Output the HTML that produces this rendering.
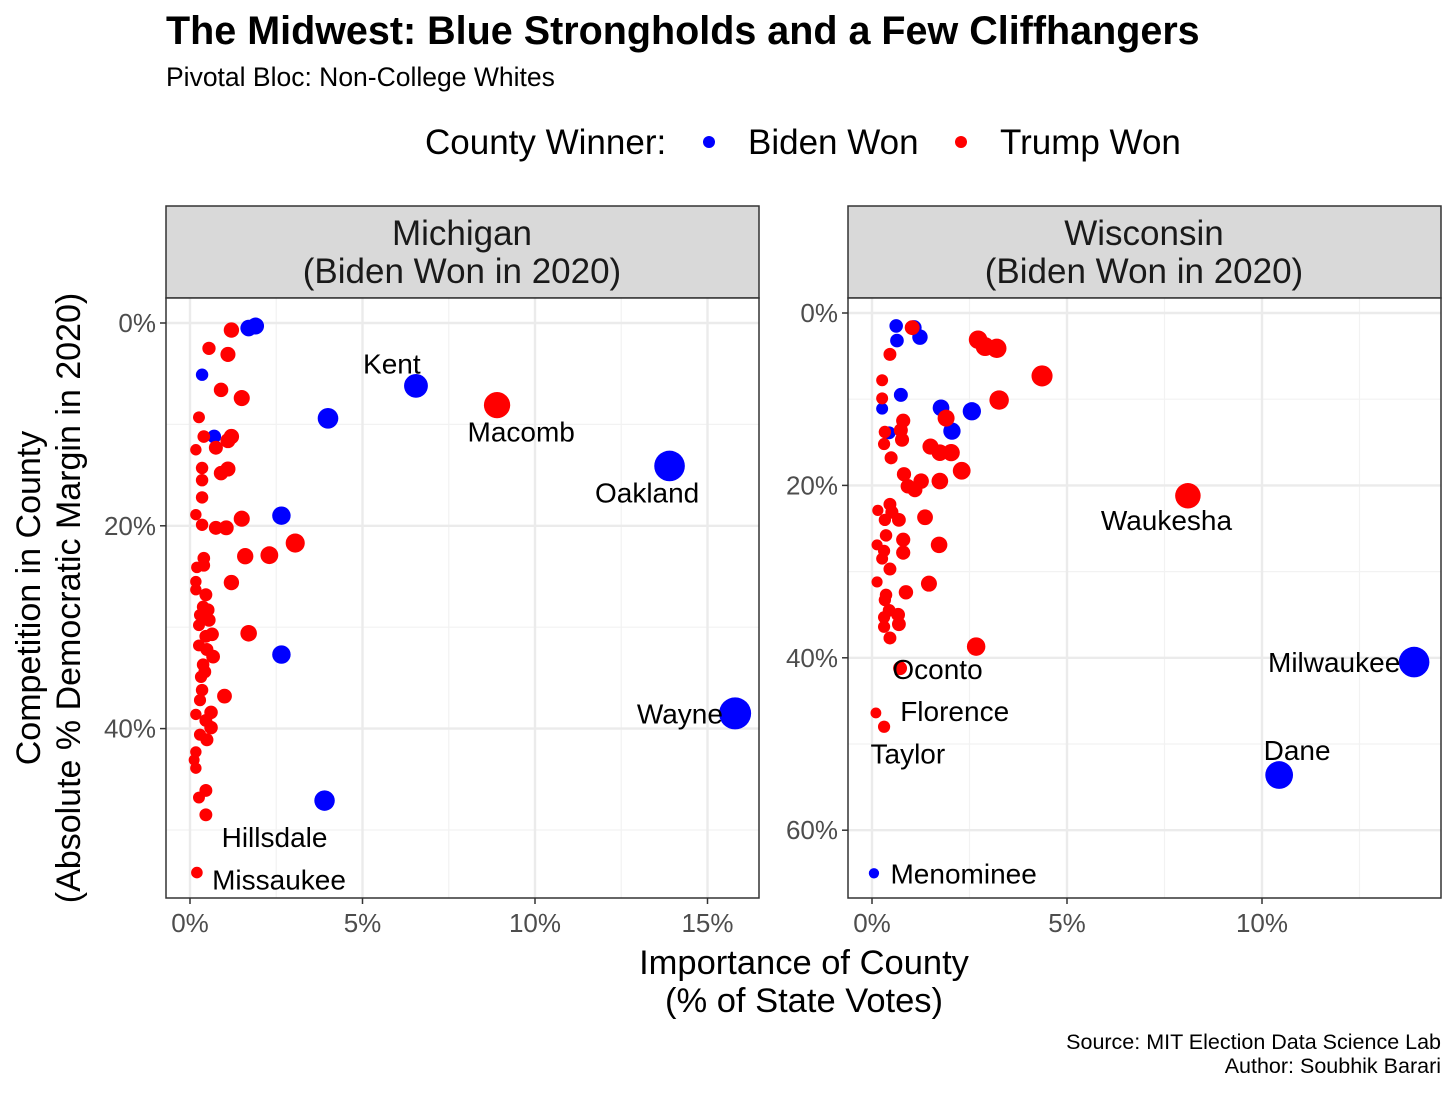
<!DOCTYPE html>
<html><head><meta charset="utf-8"><style>
body{margin:0;background:#fff;font-family:"Liberation Sans",Arial,sans-serif}
svg text{font-family:"Liberation Sans",Arial,sans-serif}
</style></head><body>
<svg id="c" width="1456" height="1092" xmlns="http://www.w3.org/2000/svg">
<text x="166" y="44" font-size="39.5" font-weight="bold">The Midwest: Blue Strongholds and a Few Cliffhangers</text>
<text x="166" y="86" font-size="26.5">Pivotal Bloc: Non-College Whites</text>
<g>
<text x="425" y="154" font-size="35">County Winner:</text>
<circle cx="709" cy="142" r="6" fill="#0000ff"/>
<text x="748" y="154" font-size="35">Biden Won</text>
<circle cx="961" cy="142" r="6" fill="#ff0000"/>
<text x="1000" y="154" font-size="35">Trump Won</text>
</g>
<text transform="translate(42,598) rotate(-90)" text-anchor="middle" font-size="34"><tspan x="0" dy="-2">Competition in County</tspan><tspan x="0" dy="40">(Absolute % Democratic Margin in 2020)</tspan></text>
<text x="804" y="974" text-anchor="middle" font-size="34.5">Importance of County</text>
<text x="804" y="1012" text-anchor="middle" font-size="34.5">(% of State Votes)</text>
<text x="1441" y="1049" text-anchor="end" font-size="21.5">Source: MIT Election Data Science Lab</text>
<text x="1441" y="1073" text-anchor="end" font-size="21.5">Author: Soubhik Barari</text>
</svg>
<script>
// Michigan data
const miBlueX=[1.9,1.7,0.35,0.7,6.55,4.0,13.9,2.65,2.65,15.8,3.9];
const miBlueY=[0.3,0.5,5.1,11.2,6.2,9.4,14.1,19.0,32.7,38.5,47.1];
const miRedX=[8.9,3.05,2.3,1.6,1.5,1.7,1.2,1.0,1.5,1.2,1.1,0.9,1.2,1.1,0.9,1.05,0.75,0.55,0.75,1.1,
0.17,0.4,0.35,0.35,0.35,0.35,0.17,0.4,0.2,0.4,0.17,0.46,0.17,0.38,0.29,0.52,0.55,0.26,0.46,0.64,0.26,0.49,0.67,0.38,0.32,0.43,0.35,0.29,0.61,0.17,0.46,0.61,0.29,0.49,0.17,0.12,0.17,0.46,0.26,0.46,0.2,0.26];
const miRedY=[8.1,21.7,22.9,23.0,19.3,30.6,25.6,36.8,7.4,0.7,3.1,6.6,11.2,11.6,14.8,20.2,20.2,2.5,12.3,14.4,
12.5,11.2,14.3,15.5,17.2,19.9,18.9,23.2,24.1,23.9,25.5,26.8,26.3,28.0,28.8,28.3,29.3,29.8,30.9,30.7,31.8,32.2,32.9,33.7,34.9,34.4,36.2,37.2,38.4,38.6,39.2,39.9,40.6,41.1,42.3,43.1,43.9,46.1,46.8,48.5,54.2,9.3];
const miLabels=["Kent","Macomb","Oakland","Wayne","Hillsdale","Missaukee"];
const miLabelX=[5.85,9.6,13.25,14.2,2.45,2.58];
const miLabelY=[4.0,10.7,16.7,38.5,50.7,54.9];
const miXTicks=[0,5,10,15], miYTicks=[0,20,40];
// Wisconsin data
const wiBlueX=[0.62,1.08,1.23,0.64,0.74,0.26,1.77,2.56,2.05,0.44,13.9,10.44,0.05];
const wiBlueY=[1.5,1.7,2.8,3.2,9.5,11.1,11.0,11.4,13.7,13.9,40.5,53.6,65.0];
const wiRedX=[8.1,2.72,2.9,3.2,4.36,3.26,2.3,2.03,1.74,1.9,1.5,1.74,1.26,1.1,0.92,1.36,1.72,1.46,2.67,1.03,0.87,
0.46,0.26,0.26,0.8,0.74,0.77,0.33,0.31,0.49,0.82,0.46,0.15,0.51,0.69,0.33,0.36,0.8,0.13,0.31,0.8,0.46,0.26,0.13,0.36,0.33,0.44,0.31,0.67,0.69,0.31,0.46,0.72,0.1,0.31];
const wiRedY=[21.2,3.1,3.9,4.1,7.3,10.1,18.3,16.2,16.2,12.2,15.5,19.5,19.5,20.5,20.1,23.7,26.9,31.4,38.7,1.7,32.4,
4.8,7.8,9.9,12.5,13.6,14.7,13.8,15.2,16.8,18.7,22.2,22.9,23.1,24.0,24.0,25.8,26.3,26.9,27.6,27.8,29.7,28.5,31.2,32.7,33.3,34.5,35.3,35.0,36.1,36.4,37.7,41.2,46.4,48.0];
const wiLabels=["Waukesha","Milwaukee","Dane","Oconto","Florence","Taylor","Menominee"];
const wiLabelX=[7.55,11.85,10.9,1.68,2.12,0.92,2.35];
const wiLabelY=[24.0,40.5,50.7,41.3,46.2,51.1,65.0];
const wiXTicks=[0,5,10], wiYTicks=[0,20,40,60];

const NS="http://www.w3.org/2000/svg", svg=document.getElementById('c');
function mk(tag,attrs,parent){const e=document.createElementNS(NS,tag);for(const k in attrs)e.setAttribute(k,attrs[k]);(parent||svg).appendChild(e);return e;}
function rad(x){return 4.5+2.9*Math.sqrt(Math.max(x,0));}

function panel(cfg){
  const g=mk('g',{});
  
  
  const L=cfg.left,R=cfg.left+593,T=298,B=898;
  const sx=v=>cfg.x0+v*cfg.kx, sy=v=>cfg.y0+v*cfg.ky;
  const strip=mk('rect',{x:L,y:206,width:593,height:92,fill:'#d9d9d9',stroke:'#333','stroke-width':1.5},g);
  
  
  const st=mk('text',{x:L+296,y:245,'text-anchor':'middle','font-size':35,fill:'#1a1a1a'},g);
  
  
  st.innerHTML='<tspan x="'+(L+296)+'">'+cfg.title+'</tspan><tspan x="'+(L+296)+'" dy="38">(Biden Won in 2020)</tspan>';
  mk('rect',{x:L,y:T,width:593,height:600,fill:'#fff'},g);
  for(let v=-2.5;v<=cfg.xmax;v+=5){const px=sx(v);if(px>L&&px<R)mk('line',{x1:px,x2:px,y1:T,y2:B,stroke:'#f2f2f2','stroke-width':1.2},g);}
  for(let v=-10;v<=cfg.ymax;v+=20){const py=sy(v);if(py>T&&py<B)mk('line',{x1:L,x2:R,y1:py,y2:py,stroke:'#f2f2f2','stroke-width':1.2},g);}
  cfg.xt.forEach(v=>{const px=sx(v);mk('line',{x1:px,x2:px,y1:T,y2:B,stroke:'#ebebeb','stroke-width':2.4},g);
    mk('line',{x1:px,x2:px,y1:B,y2:B+6,stroke:'#333','stroke-width':1.5},g);
    const t=mk('text',{x:px,y:B+34,'text-anchor':'middle','font-size':26,fill:'#4d4d4d'},g);t.textContent=v+'%';
    
    });
  cfg.yt.forEach(v=>{const py=sy(v);mk('line',{x1:L,x2:R,y1:py,y2:py,stroke:'#ebebeb','stroke-width':2.4},g);
    mk('line',{x1:L-6,x2:L,y1:py,y2:py,stroke:'#333','stroke-width':1.5},g);
    const t=mk('text',{x:L-10,y:py+9,'text-anchor':'end','font-size':26,fill:'#4d4d4d'},g);t.textContent=v+'%';
    
    });
  cfg.bx.forEach((v,i)=>{const c=mk('circle',{cx:sx(v),cy:sy(cfg.by[i]),r:rad(v),fill:'#0000ff'},g);
    
    });
  cfg.rx.forEach((v,i)=>{const c=mk('circle',{cx:sx(v),cy:sy(cfg.ry[i]),r:rad(v),fill:'#ff0000'},g);
    
    });
  cfg.lab.forEach((s,i)=>{const t=mk('text',{x:sx(cfg.lx[i]),y:sy(cfg.ly[i])+10,'text-anchor':'middle','font-size':28,fill:'#000'},g);t.textContent=s;
    
    });
  mk('rect',{x:L,y:T,width:593,height:600,fill:'none',stroke:'#333','stroke-width':1.5},g);
}
panel({name:'michigan',title:'Michigan',left:166,x0:190,kx:34.5,y0:323,ky:10.14,xmax:17,ymax:57,xt:miXTicks,yt:miYTicks,
  bx:miBlueX,by:miBlueY,rx:miRedX,ry:miRedY,lab:miLabels,lx:miLabelX,ly:miLabelY});
panel({name:'wisconsin',title:'Wisconsin',left:848,x0:872,kx:39,y0:313,ky:8.62,xmax:15,ymax:68,xt:wiXTicks,yt:wiYTicks,
  bx:wiBlueX,by:wiBlueY,rx:wiRedX,ry:wiRedY,lab:wiLabels,lx:wiLabelX,ly:wiLabelY});
</script>
</body></html>
